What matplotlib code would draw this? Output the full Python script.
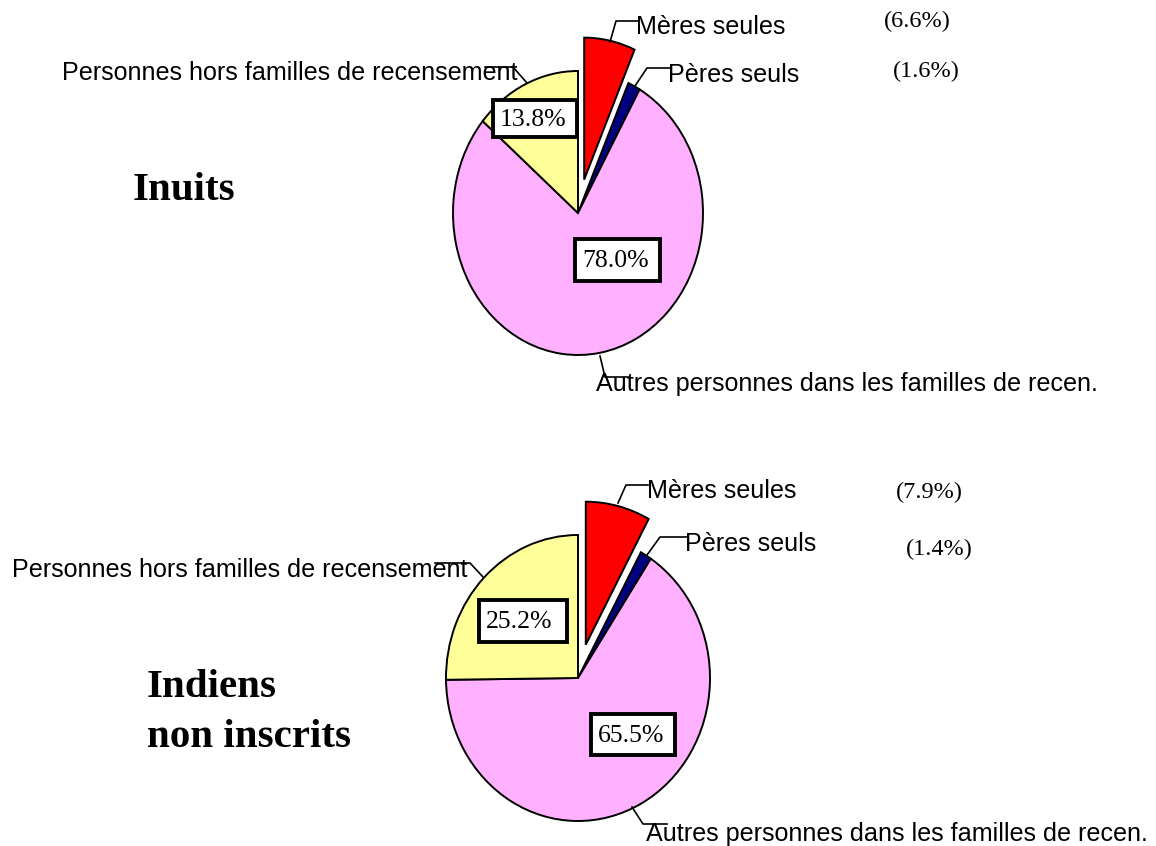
import matplotlib
matplotlib.use('Agg')
import matplotlib.pyplot as plt
from matplotlib.patches import Rectangle

# donnees
categories = ['Mères seules', 'Pères seuls',
              'Autres personnes dans les familles de recen.',
              'Personnes hors familles de recensement']
inuits = [6.6, 1.6, 78.0, 13.8]
indiens = [7.9, 1.4, 65.5, 25.2]
groupes = ['Inuits', 'Indiens\nnon inscrits']
couleurs = ['#FF0000', '#000080', '#FFB0FF', '#FFFF99']

W, H = 1156, 846
fig = plt.figure(figsize=(W / 100, H / 100), dpi=100)
SANS = 'Liberation Sans'
SERIF = 'Liberation Serif'

# mise en page (pixels) : centre, rayon x, rayon y
pies = [
    dict(vals=inuits, c=(578, 213), rx=125, ry=142,
         leaders=[[(610, 42), (616, 21), (638, 21)],
                  [(635, 86), (647, 68), (670, 68)],
                  [(600, 356), (605, 377), (628, 377)],
                  [(527, 83), (513, 67), (485, 67)]],
         labels=[(636, 34), (668, 82), (596, 391), (518, 80)],
         pct=[(884, 27), (893, 77)],
         boxes=[None, None, (575, 239, 85, 42), (493, 100, 84, 37)],
         title=(133, 200)),
    dict(vals=indiens, c=(578, 678), rx=132, ry=143,
         leaders=[[(618, 503), (626, 485), (648, 485)],
                  [(647, 555), (660, 537), (687, 537)],
                  [(632, 807), (643, 824), (667, 824)],
                  [(483, 577), (470, 563), (435, 563)]],
         labels=[(647, 498), (685, 551), (646, 841), (468, 577)],
         pct=[(896, 498), (906, 555)],
         boxes=[None, None, (591, 714, 84, 41), (479, 600, 88, 42)],
         title=(147, 697)),
]

for p in pies:
    cx, cy = p['c']
    k = 1.3
    ax = fig.add_axes([(cx - k * p['rx']) / W, (H - cy - k * p['ry']) / H,
                       2 * k * p['rx'] / W, 2 * k * p['ry'] / H])
    ax.pie(p['vals'], colors=couleurs, startangle=90, counterclock=False,
           explode=[0.24, 0, 0, 0],
           wedgeprops=dict(edgecolor='black', linewidth=1.4))
    ax.set_aspect('auto')
    ax.set_xlim(-k, k)
    ax.set_ylim(-k, k)
    ax.axis('off')

ov = fig.add_axes([0, 0, 1, 1], zorder=5)
ov.set_xlim(0, W)
ov.set_ylim(H, 0)
ov.axis('off')

for i, p in enumerate(pies):
    for j, cat in enumerate(categories):
        xs = [pt[0] for pt in p['leaders'][j]]
        ys = [pt[1] for pt in p['leaders'][j]]
        ov.plot(xs, ys, color='black', lw=1.2)
        lx, ly = p['labels'][j]
        ha = 'right' if j == 3 else 'left'
        ov.text(lx, ly, cat, ha=ha, va='baseline', fontsize=18.1,
                family=SANS, color='black')
    # valeurs entre parentheses pour les parents seuls
    for j in range(2):
        px, py = p['pct'][j]
        ov.text(px, py, '(%.1f%%)' % p['vals'][j], ha='left', va='baseline',
                fontsize=17.5, family=SERIF)
    # etiquettes encadrees
    for j in (2, 3):
        bx, by, bw, bh = p['boxes'][j]
        ov.add_patch(Rectangle((bx, by), bw, bh, facecolor='white',
                               edgecolor='black', lw=2.8, zorder=3))
        ov.text(bx + 7, by + bh / 2 + 1, '%.1f%%' % p['vals'][j], ha='left',
                va='center', fontsize=18.5, family=SERIF, zorder=4)
    tx, ty = p['title']
    for n, ligne in enumerate(groupes[i].split('\n')):
        ov.text(tx, ty + 50 * n, ligne, ha='left', va='baseline',
                fontsize=29.5, family=SERIF, fontweight='bold')

fig.savefig('out.png', dpi=100)
